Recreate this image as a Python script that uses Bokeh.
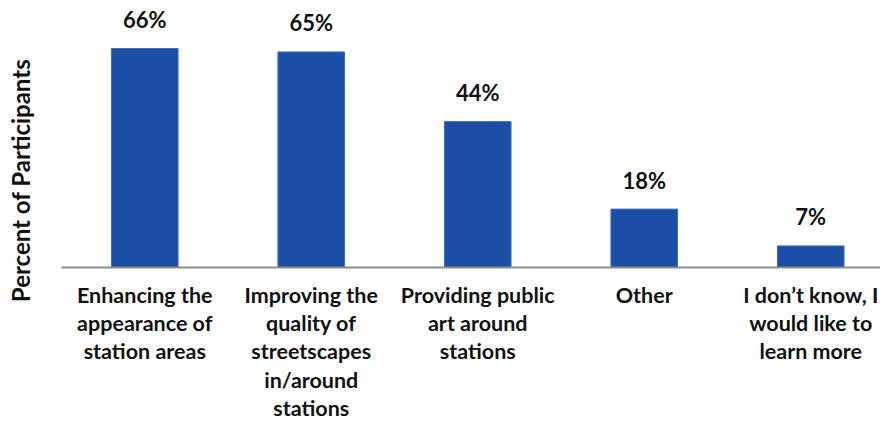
import math
from bokeh.plotting import figure
from bokeh.layouts import row
from bokeh.models import ColumnDataSource, FixedTicker, Range1d
from bokeh.core.properties import value
from bokeh.embed import file_html
from bokeh.resources import INLINE

categories = [
    "Enhancing the\nappearance of\nstation areas",
    "Improving the\nquality of\nstreetscapes\nin/around\nstations",
    "Providing public\nart around\nstations",
    "Other",
    "I don\u2019t know, I\nwould like to\nlearn more",
]
percents = [66, 65, 44, 17.6, 6.5]
value_labels = ["66%", "65%", "44%", "18%", "7%"]
y_title = "Percent of Participants"

FONT = "Lato"
BAR_COLOR = "#1B4FA6"
TITLE_W = 40
TOTAL_H = 416

# --- narrow panel holding the rotated y title ---
pt = figure(frame_width=TITLE_W, frame_height=TOTAL_H, output_backend="svg",
            toolbar_location=None, x_axis_location=None, y_axis_location=None,
            x_range=Range1d(0, TITLE_W), y_range=Range1d(0, TOTAL_H),
            min_border_left=0, min_border_right=0, min_border_top=0,
            min_border_bottom=0)
pt.outline_line_color = None
pt.grid.visible = False
pt.text(x=[19.5], y=[TOTAL_H - 180], text=[y_title], angle=math.pi / 2,
        text_align="center", text_baseline="alphabetic",
        text_font=value(FONT), text_font_style="bold", text_font_size="24px",
        text_color="#111111")

# --- main bar chart ---
xs = list(range(len(categories)))
src = ColumnDataSource(dict(x=xs, top=percents, lab=value_labels))

p = figure(frame_width=819, frame_height=267, output_backend="svg",
           toolbar_location=None, y_axis_location=None,
           x_range=Range1d(-0.5, 4.419), y_range=Range1d(0, 80.5),
           min_border_left=61 - TITLE_W, min_border_right=0, min_border_top=0,
           min_border_bottom=0)
p.outline_line_color = None
p.grid.visible = False
p.background_fill_color = "white"
p.border_fill_color = "white"

p.vbar(x="x", top="top", bottom=0, width=0.4, source=src,
       fill_color=BAR_COLOR, line_color="#3E6BB8", line_width=1)

p.text(x="x", y="top", text="lab", source=src, text_align="center",
       text_baseline="alphabetic", y_offset=-29,
       text_font=value(FONT), text_font_style="bold", text_font_size="22px",
       text_color="#111111")

xa = p.xaxis[0]
xa.ticker = FixedTicker(ticks=xs)
xa.major_label_overrides = {i: c for i, c in enumerate(categories)}
xa.major_tick_line_color = None
xa.minor_tick_line_color = None
xa.axis_line_color = "#8C8C8C"
xa.axis_line_width = 2
xa.major_label_text_font = FONT
xa.major_label_text_font_style = "bold"
xa.major_label_text_font_size = "21.5px"
xa.major_label_text_color = "#111111"
xa.major_label_text_line_height = 1.09
xa.major_label_standoff = 8

layout = row(pt, p, spacing=0)

open("out.html", "w").write(file_html(layout, INLINE))
